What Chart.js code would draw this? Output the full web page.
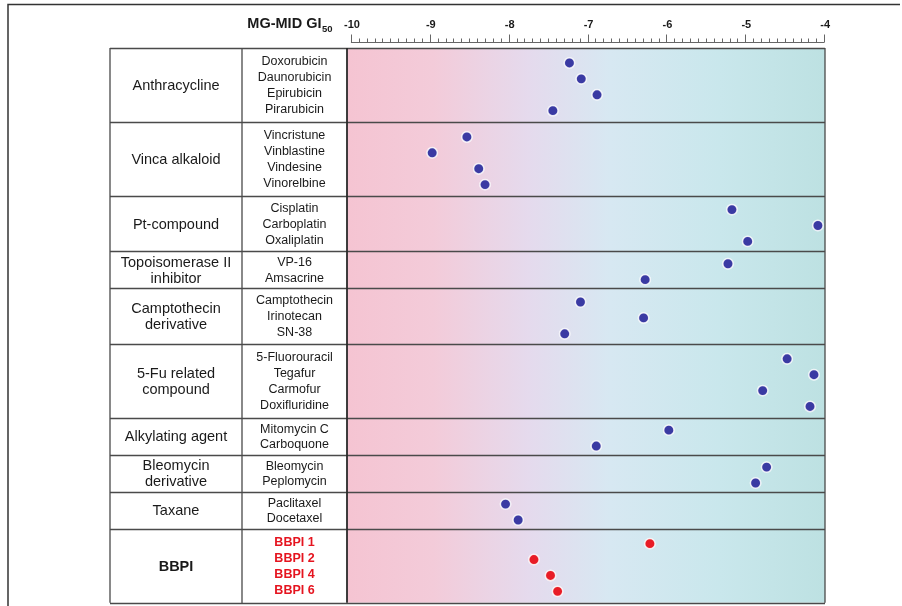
<!DOCTYPE html>
<html><head><meta charset="utf-8">
<script src="https://cdn.jsdelivr.net/npm/chart.js@4.4.1/dist/chart.umd.min.js"></script>
<style>html,body{margin:0;padding:0;background:#fff}canvas{display:block}</style>
</head><body>
<canvas id="c" width="902" height="606"></canvas>
<script>
// ---- data ----
const groupNames = ['Anthracycline','Vinca alkaloid','Pt-compound','Topoisomerase II\ninhibitor','Camptothecin\nderivative','5-Fu related\ncompound','Alkylating agent','Bleomycin\nderivative','Taxane','BBPI'];
const groupSizes = [4,4,3,2,3,4,2,2,2,4];
const drugNames = ['Doxorubicin','Daunorubicin','Epirubicin','Pirarubicin',
  'Vincristune','Vinblastine','Vindesine','Vinorelbine',
  'Cisplatin','Carboplatin','Oxaliplatin',
  'VP-16','Amsacrine',
  'Camptothecin','Irinotecan','SN-38',
  '5-Fluorouracil','Tegafur','Carmofur','Doxifluridine',
  'Mitomycin C','Carboquone',
  'Bleomycin','Peplomycin',
  'Paclitaxel','Docetaxel',
  'BBPI 1','BBPI 2','BBPI 4','BBPI 6'];
const gi50Values = [-7.23,-7.08,-6.88,-7.44,
  -8.53,-8.97,-8.38,-8.30,
  -5.17,-4.08,-4.97,
  -5.22,-6.27,
  -7.09,-6.29,-7.29,
  -4.47,-4.13,-4.78,-4.18,
  -5.97,-6.89,
  -4.73,-4.87,
  -8.04,-7.88,
  -6.21,-7.68,-7.47,-7.38];
const highlightGroup = 'BBPI';
const xTickValues = [-10,-9,-8,-7,-6,-5,-4];
const xTickLabels = ['-10','-9','-8','-7','-6','-5','-4'];
const axisTitle = 'MG-MID GI';
const axisTitleSub = '50';

// ---- layout helpers (slot positions) ----
const groupStart = [];
const drugGroup = [];
const drugSlotY = [];
let acc = 0;
groupSizes.forEach((n, g) => {
  groupStart.push(acc);
  for (let j = 0; j < n; j++) {
    drugGroup.push(g);
    drugSlotY.push(acc + n / 2 + (j - (n - 1) / 2) * 0.86 + 0.1);
  }
  acc += n;
});
const totalSlots = acc;

const bluePts = [], redPts = [];
gi50Values.forEach((v, i) => {
  const p = {x: v, y: drugSlotY[i]};
  if (groupNames[drugGroup[i]] === highlightGroup) redPts.push(p); else bluePts.push(p);
});

const FONT = '"Liberation Sans", Arial, Helvetica, sans-serif';

const tablePlugin = {
  id: 'table',
  beforeDraw(chart) {
    const ctx = chart.ctx, a = chart.chartArea, ys = chart.scales.y;
    const bottom = ys.getPixelForValue(totalSlots);
    ctx.save();
    ctx.fillStyle = '#ffffff';
    ctx.fillRect(0, 0, chart.width, chart.height);
    const gr = ctx.createLinearGradient(a.left, 0, a.right, 0);
    gr.addColorStop(0, '#f5c4d2');
    gr.addColorStop(0.18, '#f3cbd9');
    gr.addColorStop(0.38, '#e5daed');
    gr.addColorStop(0.55, '#d7e8f2');
    gr.addColorStop(0.78, '#c9e7ec');
    gr.addColorStop(1, '#bde1e2');
    ctx.fillStyle = gr;
    ctx.fillRect(a.left, a.top, a.right - a.left, bottom - a.top);
    ctx.restore();
  },
  beforeDatasetsDraw(chart) {
    const ctx = chart.ctx, a = chart.chartArea;
    const xs = chart.scales.x, ys = chart.scales.y;
    const tLeft = 110, tMid = 242;
    const top = ys.getPixelForValue(0), bottom = ys.getPixelForValue(totalSlots);
    ctx.save();
    // outer frame
    ctx.strokeStyle = '#333';
    ctx.lineWidth = 1.5;
    ctx.beginPath();
    ctx.moveTo(8, 606); ctx.lineTo(8, 4.5); ctx.lineTo(900, 4.5);
    ctx.stroke();

    // table lines
    ctx.strokeStyle = '#4a4a4a';
    ctx.lineWidth = 1.3;
    ctx.beginPath();
    for (let g = 0; g <= groupSizes.length; g++) {
      const s = g < groupSizes.length ? groupStart[g] : totalSlots;
      const y = Math.round(ys.getPixelForValue(s)) + 0.5;
      ctx.moveTo(tLeft, y); ctx.lineTo(a.right, y);
    }
    ctx.moveTo(tLeft, top); ctx.lineTo(tLeft, bottom);
    ctx.moveTo(tMid, top); ctx.lineTo(tMid, bottom);
    ctx.moveTo(a.right, top); ctx.lineTo(a.right, bottom);
    ctx.stroke();
    ctx.strokeStyle = '#2a2a2a';
    ctx.lineWidth = 1.8;
    ctx.beginPath();
    ctx.moveTo(a.left, top); ctx.lineTo(a.left, bottom);
    ctx.stroke();

    // group labels
    ctx.textAlign = 'center';
    ctx.textBaseline = 'middle';
    groupNames.forEach((name, g) => {
      const cy = ys.getPixelForValue(groupStart[g] + groupSizes[g] / 2);
      const lines = name.split('\n');
      const isHi = name === highlightGroup;
      ctx.font = (isHi ? 'bold ' : '') + '14.5px ' + FONT;
      ctx.fillStyle = '#1a1a1a';
      lines.forEach((ln, k) => {
        ctx.fillText(ln, (tLeft + tMid) / 2, cy + (k - (lines.length - 1) / 2) * 16 + 1);
      });
    });
    // drug labels
    drugNames.forEach((d, i) => {
      const isHi = groupNames[drugGroup[i]] === highlightGroup;
      ctx.font = (isHi ? 'bold ' : '') + '12.5px ' + FONT;
      ctx.fillStyle = isHi ? '#e5141f' : '#1a1a1a';
      ctx.fillText(d, (tMid + a.left) / 2, ys.getPixelForValue(drugSlotY[i]) - 1);
    });

    // top axis
    const axY = 42.5;
    ctx.strokeStyle = '#666';
    ctx.lineWidth = 1;
    ctx.beginPath();
    const x0 = xs.getPixelForValue(xTickValues[0]);
    const x1 = xs.getPixelForValue(xTickValues[xTickValues.length - 1]);
    ctx.moveTo(x0, axY); ctx.lineTo(x1, axY);
    for (let k = 0; k <= (xTickValues[xTickValues.length-1] - xTickValues[0]) * 10; k++) {
      const v = xTickValues[0] + k / 10;
      const px = Math.round(xs.getPixelForValue(v)) + 0.5;
      const len = (k % 10 === 0) ? 8 : 4;
      ctx.moveTo(px, axY); ctx.lineTo(px, axY - len);
    }
    ctx.stroke();
    ctx.fillStyle = '#1a1a1a';
    ctx.font = 'bold 11px ' + FONT;
    ctx.textBaseline = 'middle';
    xTickValues.forEach((v, i) => {
      ctx.fillText(xTickLabels[i], xs.getPixelForValue(v) + 1, 25);
    });
    // axis title
    ctx.font = 'bold 14.5px ' + FONT;
    ctx.textAlign = 'left';
    const tw = ctx.measureText(axisTitle).width;
    ctx.font = 'bold 9.5px ' + FONT;
    const sw = ctx.measureText(axisTitleSub).width;
    const tx = 332 - tw - sw;
    ctx.font = 'bold 14.5px ' + FONT;
    ctx.fillText(axisTitle, tx, 24);
    ctx.font = 'bold 9.5px ' + FONT;
    ctx.fillText(axisTitleSub, tx + tw + 0.5, 29);
    ctx.restore();
  }
};

new Chart(document.getElementById('c'), {
  type: 'scatter',
  data: {
    datasets: [
      {data: bluePts, backgroundColor: '#3a3aa3', borderColor: 'rgba(255,255,255,0.85)', borderWidth: 1.5, pointRadius: 5.2, clip: false},
      {data: redPts, backgroundColor: '#e81c26', borderColor: 'rgba(255,255,255,0.85)', borderWidth: 1.5, pointRadius: 5.2, clip: false}
    ]
  },
  options: {
    responsive: false,
    animation: false,
    devicePixelRatio: 1,
    layout: {padding: {left: 347, right: 77, top: 48, bottom: 2}},
    plugins: {legend: {display: false}, tooltip: {enabled: false}},
    scales: {
      x: {type: 'linear', display: false, min: -10.05, max: -3.99},
      y: {type: 'linear', display: false, min: 0, max: 29.82, reverse: true}
    }
  },
  plugins: [tablePlugin]
});
</script>
</body></html>
